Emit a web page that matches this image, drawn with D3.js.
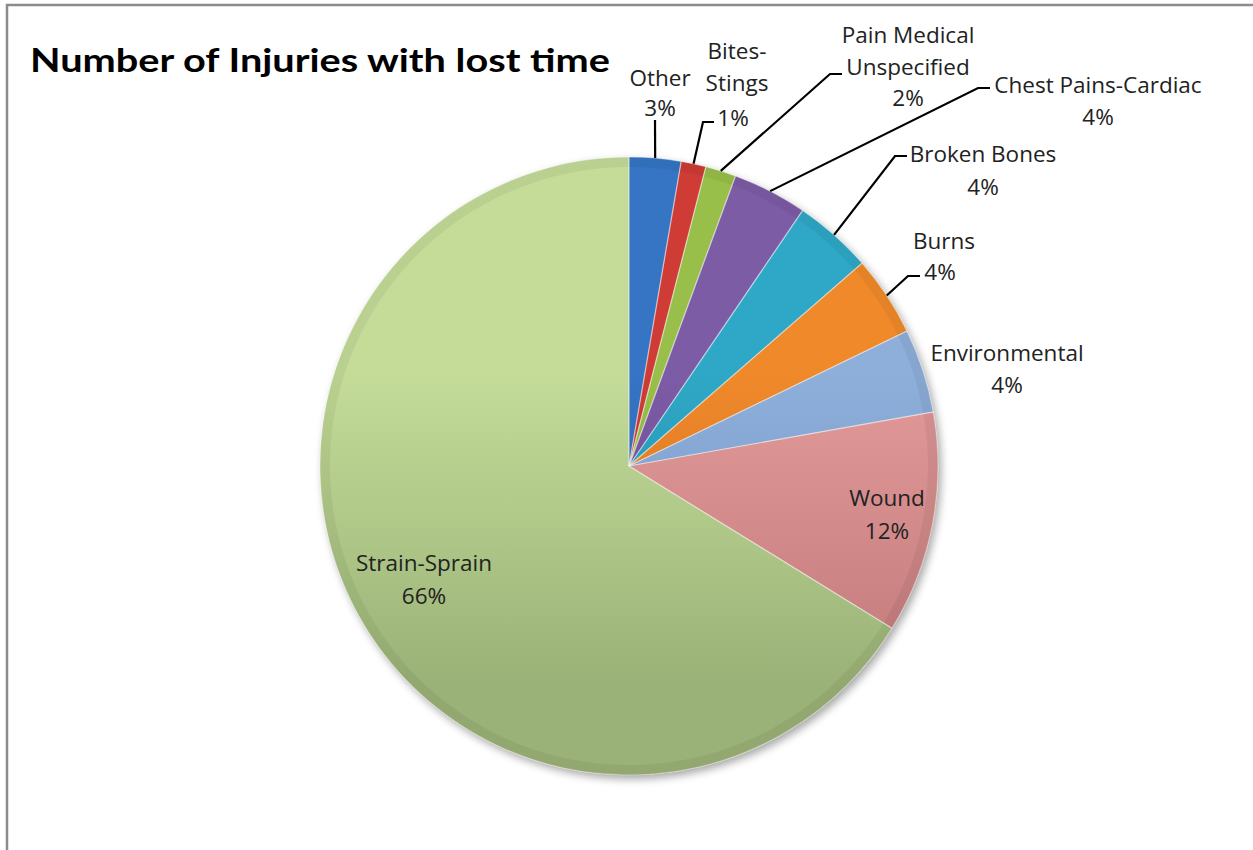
<!DOCTYPE html>
<html><head><meta charset="utf-8">
<script src="https://cdn.jsdelivr.net/npm/d3@7"></script>
<style>
html,body{margin:0;padding:0;background:#fff;}
svg{display:block;}
text{font-family:"Open Sans","Noto Sans",sans-serif;fill:#222;}
</style></head>
<body>
<svg id="chart" width="1253" height="850"></svg>
<script>
const title = "Number of Injuries with lost time";
const categories = ["Other","Bites-Stings","Pain Medical Unspecified","Chest Pains-Cardiac","Broken Bones","Burns","Environmental","Wound","Strain-Sprain"];
const values = [2.7, 1.3, 1.6, 3.9, 4.1, 4.2, 4.4, 11.6, 66.2];
const labelLines = [["Other"],["Bites-","Stings"],["Pain Medical","Unspecified"],["Chest Pains-Cardiac"],["Broken Bones"],["Burns"],["Environmental"],["Wound"],["Strain-Sprain"]];
const colors = ["#3674c4","#cf3b36","#98bf48","#7d5ba6","#2fa8c6","#f0892c","#8fafdb","#e29a9a","#c4dc98"];
const darkColors = ["#2a5d9f","#a82d2a","#7d9e3a","#624786","#2088a2","#c96d1c","#6f8fbf","#c27a7a","#9ab277"];

// layout (not data): label anchor positions and leader info
const labelPos = [
  {x:660, y:77, pct:{x:660,y:107}, leader:{x:655,y:120,h:0}},
  {x:737, y:50, pct:{x:733,y:117}, leader:{x:703,y:122,h:11}},
  {x:908, y:34, pct:{x:908,y:97}, leader:{x:830,y:74,h:12}},
  {x:1098,y:84, pct:{x:1098,y:116}, leader:{x:978,y:88,h:12}},
  {x:983, y:153, pct:{x:983,y:186}, leader:{x:895,y:156,h:12}},
  {x:944, y:240, pct:{x:940,y:271}, leader:{x:908,y:276,h:12}},
  {x:1007,y:352, pct:{x:1007,y:384}, leader:null},
  {x:887, y:497, pct:{x:887,y:530}, leader:null},
  {x:424, y:562, pct:{x:424,y:595}, leader:null}
];

const svg = d3.select("#chart");
const W = 1253, H = 850;
const cx = 629, cy = 466, R = 309;

// border
svg.append("rect").attr("x",7).attr("y",5).attr("width",W+10).attr("height",H+10)
  .attr("fill","none").attr("stroke","#8c8c8c").attr("stroke-width",2.5);

svg.append("text").attr("x",30).attr("y",72).text(title)
  .style("font-size","32px").style("font-weight","bold").style("fill","#000")
  .style("font-family","Lato, 'Open Sans', sans-serif")
  .attr("textLength",580).attr("lengthAdjust","spacingAndGlyphs");

const defs = svg.append("defs");
const shadow = defs.append("filter").attr("id","shadow").attr("x","-20%").attr("y","-20%").attr("width","140%").attr("height","140%");
shadow.append("feGaussianBlur").attr("in","SourceAlpha").attr("stdDeviation",4);
shadow.append("feOffset").attr("dx",3).attr("dy",4).attr("result","b");
shadow.append("feComponentTransfer").append("feFuncA").attr("type","linear").attr("slope",0.35);
const m = shadow.append("feMerge"); m.append("feMergeNode"); m.append("feMergeNode").attr("in","SourceGraphic");

categories.forEach((c,i)=>{
  const g = defs.append("linearGradient").attr("id","g"+i)
    .attr("gradientUnits","userSpaceOnUse").attr("x1",0).attr("y1",-R).attr("x2",0).attr("y2",R);
  g.append("stop").attr("offset","0%").attr("stop-color",colors[i]);
  g.append("stop").attr("offset","35%").attr("stop-color",colors[i]);
  g.append("stop").attr("offset","85%").attr("stop-color",darkColors[i]);
  g.append("stop").attr("offset","100%").attr("stop-color",darkColors[i]);
});

const pie = d3.pie().sort(null).value(d=>d).startAngle(0).endAngle(2*Math.PI);
const arcs = pie(values);
const arc = d3.arc().innerRadius(0).outerRadius(R);
const rimArc = d3.arc().innerRadius(R-10).outerRadius(R);

const pg = svg.append("g").attr("transform",`translate(${cx},${cy})`);
const slices = pg.append("g").attr("filter","url(#shadow)");
slices.selectAll("path.s").data(arcs).join("path").attr("class","s")
  .attr("d",arc).attr("fill",(d,i)=>`url(#g${i})`);
// bevel rim: darker outer edge
pg.selectAll("path.rim").data(arcs).join("path").attr("class","rim")
  .attr("d",rimArc).attr("fill","#000").attr("opacity",0.05);
pg.selectAll("path.edge").data(arcs).join("path").attr("class","edge")
  .attr("d",arc).attr("fill","none").attr("stroke","rgba(255,255,255,0.35)").attr("stroke-width",1.2);

const total = d3.sum(values);
const fs = 22.5, lh = 32;
arcs.forEach((d,i)=>{
  const lp = labelPos[i];
  const lines = labelLines[i];
  lines.forEach((t,k)=>{
    svg.append("text").attr("x",lp.x).attr("y",lp.y + k*lh).attr("text-anchor","middle")
      .attr("dominant-baseline","central").style("font-size",fs+"px").text(t);
  });
  svg.append("text").attr("x",lp.pct.x).attr("y",lp.pct.y).attr("text-anchor","middle")
    .attr("dominant-baseline","central").style("font-size",fs+"px")
    .text(Math.round(d.value/total*100)+"%");
  if(lp.leader){
    const a = (d.startAngle+d.endAngle)/2;
    const px = cx + R*Math.sin(a), py = cy - R*Math.cos(a);
    const L = lp.leader;
    svg.append("path").attr("d",`M${px},${py}L${L.x},${L.y}L${L.x+L.h},${L.y}`)
      .attr("fill","none").attr("stroke","#000").attr("stroke-width",2.2);
  }
});
</script>
</body></html>
